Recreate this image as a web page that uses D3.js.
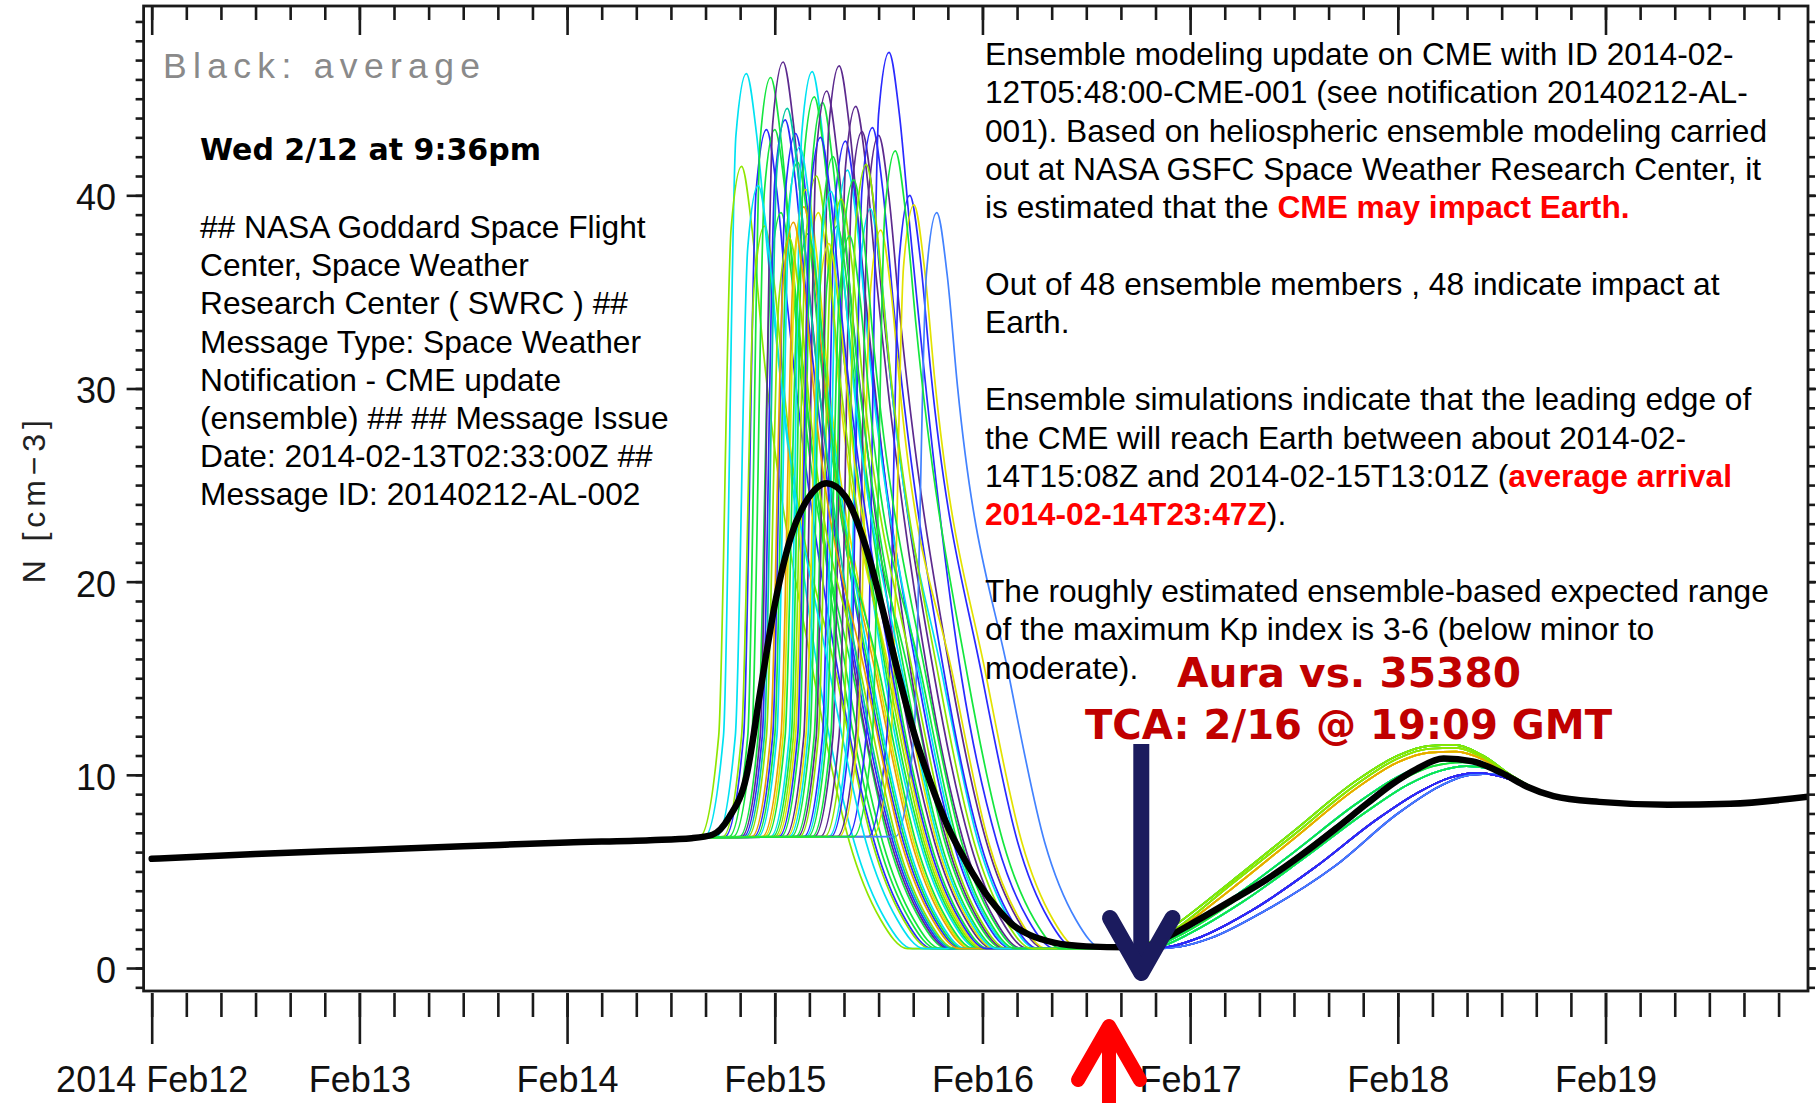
<!DOCTYPE html>
<html><head><meta charset="utf-8">
<script src="https://cdn.jsdelivr.net/npm/d3@7"></script>
<style>html,body{margin:0;padding:0;background:#fff;overflow:hidden}text{white-space:pre}</style>
</head><body><svg id="c" width="1816" height="1103"></svg>
<script>
// ---------------- data (days since 2014-02-12 00:00 UT, density cm^-3) ----------------
const dayLabels = ["2014 Feb12","Feb13","Feb14","Feb15","Feb16","Feb17","Feb18","Feb19"];
const yTickValues = [0,10,20,30,40];

const averageSeries = [[0,5.65],[0.5,5.9],[1.0,6.1],[1.5,6.3],[2.0,6.5],[2.4,6.62],[2.6,6.72],[2.7,6.9],[2.78,7.8],[2.865,10.0],[2.93,14.3],[3.0,18.8],[3.08,22.4],[3.16,24.3],[3.25,25.1],[3.34,24.4],[3.45,21.4],[3.53,18.1],[3.6,15.0],[3.675,12.0],[3.75,9.6],[3.83,7.4],[3.9,5.9],[4.0,4.1],[4.07,3.1],[4.15,2.2],[4.23,1.7],[4.35,1.3],[4.5,1.12],[4.7,1.07],[4.8,1.15],[4.89,1.6],[5.0,2.25],[5.2,3.5],[5.37,4.6],[5.53,5.8],[5.7,7.2],[5.85,8.5],[5.97,9.5],[6.09,10.3],[6.22,10.85],[6.36,10.7],[6.5,10.1],[6.62,9.4],[6.75,8.9],[6.97,8.6],[7.3,8.45],[7.6,8.5],[7.975,8.87]];

const sharedBaseline = [[0,5.65],[1,6.1],[2,6.5],[2.6,6.75]];

const bumpUp     = [[4.72,1.0],[4.8,1.3],[4.9,2.0],[5.2,4.5],[5.5,7.1],[5.8,9.7],[6.0,11.0],[6.15,11.5],[6.27,11.55],[6.41,11.0],[6.55,9.95],[6.7,9.05]];
const bumpUp2    = [[4.73,1.0],[4.82,1.3],[4.92,1.95],[5.2,4.35],[5.5,6.9],[5.8,9.5],[6.0,10.85],[6.15,11.35],[6.28,11.4],[6.41,10.9],[6.55,9.9],[6.7,9.05]];
const bumpYellow = [[4.74,1.0],[4.82,1.25],[4.92,1.85],[5.2,4.1],[5.5,6.7],[5.8,9.3],[6.0,10.65],[6.15,11.15],[6.28,11.2],[6.41,10.8],[6.55,9.85],[6.7,9.05]];
const bumpMid    = [[4.76,1.0],[4.85,1.25],[4.95,1.8],[5.2,3.6],[5.5,6.0],[5.8,8.5],[6.0,9.9],[6.15,10.6],[6.3,10.8],[6.43,10.55],[6.56,9.75],[6.7,9.0]];
const bumpMid2   = [[4.77,1.0],[4.86,1.22],[4.97,1.8],[5.22,3.5],[5.52,5.85],[5.82,8.3],[6.02,9.75],[6.17,10.45],[6.31,10.65],[6.44,10.45],[6.56,9.75],[6.7,9.0]];
const bumpLow    = [[4.78,1.0],[4.88,1.2],[5.0,1.8],[5.25,3.4],[5.55,5.7],[5.85,8.1],[6.05,9.5],[6.2,10.2],[6.33,10.45],[6.45,10.3],[6.57,9.7],[6.7,9.0]];
const bumpBlue   = [[4.8,1.0],[4.92,1.15],[5.05,1.6],[5.3,3.0],[5.6,5.2],[5.9,7.7],[6.1,9.1],[6.25,9.85],[6.38,10.1],[6.5,9.9],[6.6,9.5],[6.72,8.95]];
const bumpBlue2  = [[4.82,1.0],[4.95,1.1],[5.1,1.55],[5.35,2.9],[5.7,5.3],[6.0,8.0],[6.2,9.4],[6.35,10.0],[6.47,10.05],[6.57,9.7],[6.72,8.95]];

const memberColorKeys = ["C","L","B","G","L","G","G","P","B","B","G","O","Y","C","G","Y","G","P","G","P","B","C","P","P","C","B","P","Y","B","B","Y","LB","C","L","C","G","L","Y","G","L","G","T","O","B","C","G","L","G"];
const memberBumpKeys  = ["mid","up","blue","up","up2","mid","low","blue","blue2","blue","up","yel","yel","mid","up2","yel","mid2","blue","low","blue","blue2","low","blue","blue2","mid","blue","blue","yel","blue2","blue","yel","blue2","low","up","mid","up","up2","yel","mid2","up","low","mid","yel","blue","low","mid","up2","low"];

const memberCME = [
[[2.663,6.8],[2.753,12],[2.813,43.1],[2.863,46.3],[2.913,43.1],[2.963,37.3],[3.213,15],[3.383,6.5],[3.533,2.5],[3.663,1]],
[[2.64,6.8],[2.73,12],[2.79,38.3],[2.84,41.5],[2.89,38.3],[2.94,32.5],[3.19,15],[3.36,6.5],[3.51,2.5],[3.64,1]],
[[2.76,6.8],[2.85,12],[2.91,40.2],[2.96,43.4],[3.01,40.2],[3.06,34.4],[3.31,15],[3.48,6.5],[3.63,2.5],[3.76,1]],
[[2.78,6.8],[2.87,12],[2.93,42.9],[2.98,46.1],[3.03,42.9],[3.08,37.1],[3.33,15],[3.5,6.5],[3.65,2.5],[3.78,1]],
[[2.75,6.8],[2.84,12],[2.9,35.2],[2.95,38.4],[3.0,35.2],[3.05,29.4],[3.3,15],[3.47,6.5],[3.62,2.5],[3.75,1]],
[[2.8,6.8],[2.89,12],[2.95,40.2],[3.0,43.4],[3.05,40.2],[3.1,34.4],[3.35,15],[3.52,6.5],[3.67,2.5],[3.8,1]],
[[2.83,6.8],[2.92,12],[2.98,35.9],[3.03,39.1],[3.08,35.9],[3.13,30.1],[3.38,15],[3.55,6.5],[3.7,2.5],[3.83,1]],
[[2.84,6.8],[2.93,12],[2.99,43.7],[3.04,46.9],[3.09,43.7],[3.14,37.9],[3.39,15],[3.56,6.5],[3.71,2.5],[3.84,1]],
[[2.85,6.8],[2.94,12],[3.0,40.7],[3.05,43.9],[3.1,40.7],[3.15,34.9],[3.4,15],[3.57,6.5],[3.72,2.5],[3.85,1]],
[[2.9,6.8],[2.99,12],[3.05,40],[3.1,43.2],[3.15,40],[3.2,34.2],[3.45,15],[3.62,6.5],[3.77,2.5],[3.9,1]],
[[2.91,6.8],[3.0,12],[3.06,38.5],[3.11,41.7],[3.16,38.5],[3.21,32.7],[3.46,15],[3.63,6.5],[3.78,2.5],[3.91,1]],
[[2.94,6.8],[3.03,12],[3.09,36.2],[3.14,39.4],[3.19,36.2],[3.24,30.4],[3.49,15],[3.66,6.5],[3.81,2.5],[3.94,1]],
[[2.95,6.8],[3.04,12],[3.1,37.1],[3.15,40.3],[3.2,37.1],[3.25,31.3],[3.5,15],[3.67,6.5],[3.82,2.5],[3.95,1]],
[[2.98,6.8],[3.07,12],[3.13,43.2],[3.18,46.4],[3.23,43.2],[3.28,37.4],[3.53,15],[3.7,6.5],[3.85,2.5],[3.98,1]],
[[2.99,6.8],[3.08,12],[3.14,41.9],[3.19,45.1],[3.24,41.9],[3.29,36.1],[3.54,15],[3.71,6.5],[3.86,2.5],[3.99,1]],
[[3.01,6.8],[3.1,12],[3.16,35.9],[3.21,39.1],[3.26,35.9],[3.31,30.1],[3.56,15],[3.73,6.5],[3.88,2.5],[4.01,1]],
[[3.03,6.8],[3.12,12],[3.18,41.6],[3.23,44.8],[3.28,41.6],[3.33,35.8],[3.58,15],[3.75,6.5],[3.9,2.5],[4.03,1]],
[[3.05,6.8],[3.14,12],[3.2,42.2],[3.25,45.4],[3.3,42.2],[3.35,36.4],[3.6,15],[3.77,6.5],[3.92,2.5],[4.05,1]],
[[3.1,6.8],[3.19,12],[3.25,35.2],[3.3,38.4],[3.35,35.2],[3.4,29.4],[3.65,15],[3.82,6.5],[3.97,2.5],[4.1,1]],
[[3.11,6.8],[3.2,12],[3.26,43.5],[3.31,46.7],[3.36,43.5],[3.41,37.7],[3.66,15],[3.83,6.5],[3.98,2.5],[4.11,1]],
[[3.14,6.8],[3.23,12],[3.29,39.6],[3.34,42.8],[3.39,39.6],[3.44,33.8],[3.69,15],[3.86,6.5],[4.01,2.5],[4.14,1]],
[[3.15,6.8],[3.24,12],[3.3,38.1],[3.35,41.3],[3.4,38.1],[3.45,32.3],[3.7,15],[3.87,6.5],[4.02,2.5],[4.15,1]],
[[3.19,6.8],[3.28,12],[3.34,41.4],[3.39,44.6],[3.44,41.4],[3.49,35.6],[3.74,15],[3.91,6.5],[4.06,2.5],[4.19,1]],
[[3.22,6.8],[3.31,12],[3.37,40.1],[3.42,43.3],[3.47,40.1],[3.52,34.3],[3.77,15],[3.94,6.5],[4.09,2.5],[4.22,1]],
[[3.26,6.8],[3.35,12],[3.41,36.1],[3.46,39.3],[3.51,36.1],[3.56,30.3],[3.81,15],[3.98,6.5],[4.13,2.5],[4.26,1]],
[[3.27,6.8],[3.36,12],[3.42,40.3],[3.47,43.5],[3.52,40.3],[3.57,34.5],[3.82,15],[3.99,6.5],[4.14,2.5],[4.27,1]],
[[3.3,6.8],[3.39,12],[3.45,39.9],[3.5,43.1],[3.55,39.9],[3.6,34.1],[3.85,15],[4.02,6.5],[4.17,2.5],[4.3,1]],
[[3.31,6.8],[3.4,12],[3.46,35],[3.51,38.2],[3.56,35],[3.61,29.2],[3.86,15],[4.03,6.5],[4.18,2.5],[4.31,1]],
[[3.35,6.8],[3.44,12],[3.5,44.2],[3.55,47.4],[3.6,44.2],[3.65,38.4],[3.9,15],[4.07,6.5],[4.22,2.5],[4.35,1]],
[[3.45,6.8],[3.54,12],[3.6,36.8],[3.65,40],[3.7,36.8],[3.75,31],[4.0,15],[4.17,6.5],[4.32,2.5],[4.45,1]],
[[3.47,6.8],[3.56,12],[3.62,36.3],[3.67,39.5],[3.72,36.3],[3.77,30.5],[4.02,15],[4.19,6.5],[4.34,2.5],[4.47,1]],
[[3.58,6.8],[3.67,12],[3.73,35.9],[3.78,39.1],[3.83,35.9],[3.88,30.1],[4.13,15],[4.3,6.5],[4.45,2.5],[4.58,1]],
[[2.72,6.8],[2.81,12],[2.87,37.3],[2.92,40.5],[2.97,37.3],[3.02,31.5],[3.27,15],[3.44,6.5],[3.59,2.5],[3.72,1]],
[[2.87,6.8],[2.96,12],[3.02,34.6],[3.07,37.8],[3.12,34.6],[3.17,28.8],[3.42,15],[3.59,6.5],[3.74,2.5],[3.87,1]],
[[2.92,6.8],[3.01,12],[3.07,39.3],[3.12,42.5],[3.17,39.3],[3.22,33.5],[3.47,15],[3.64,6.5],[3.79,2.5],[3.92,1]],
[[2.96,6.8],[3.05,12],[3.11,34.8],[3.16,38],[3.21,34.8],[3.26,29],[3.51,15],[3.68,6.5],[3.83,2.5],[3.96,1]],
[[3.0,6.8],[3.09,12],[3.15,37.8],[3.2,41],[3.25,37.8],[3.3,32],[3.55,15],[3.72,6.5],[3.87,2.5],[4.0,1]],
[[3.06,6.8],[3.15,12],[3.21,34.3],[3.26,37.5],[3.31,34.3],[3.36,28.5],[3.61,15],[3.78,6.5],[3.93,2.5],[4.06,1]],
[[3.08,6.8],[3.17,12],[3.23,38.8],[3.28,42],[3.33,38.8],[3.38,33],[3.63,15],[3.8,6.5],[3.95,2.5],[4.08,1]],
[[3.12,6.8],[3.21,12],[3.27,36.6],[3.32,39.8],[3.37,36.6],[3.42,30.8],[3.67,15],[3.84,6.5],[3.99,2.5],[4.12,1]],
[[3.18,6.8],[3.27,12],[3.33,37.6],[3.38,40.8],[3.43,37.6],[3.48,31.8],[3.73,15],[3.9,6.5],[4.05,2.5],[4.18,1]],
[[2.86,6.8],[2.95,12],[3.01,41.3],[3.06,44.5],[3.11,41.3],[3.16,35.5],[3.41,15],[3.58,6.5],[3.73,2.5],[3.86,1]],
[[2.89,6.8],[2.98,12],[3.04,35.4],[3.09,38.6],[3.14,35.4],[3.19,29.6],[3.44,15],[3.61,6.5],[3.76,2.5],[3.89,1]],
[[3.02,6.8],[3.11,12],[3.17,39.8],[3.22,43],[3.27,39.8],[3.32,34],[3.57,15],[3.74,6.5],[3.89,2.5],[4.02,1]],
[[3.07,6.8],[3.16,12],[3.22,37],[3.27,40.2],[3.32,37],[3.37,31.2],[3.62,15],[3.79,6.5],[3.94,2.5],[4.07,1]],
[[3.16,6.8],[3.25,12],[3.31,34.7],[3.36,37.9],[3.41,34.7],[3.46,28.9],[3.71,15],[3.88,6.5],[4.03,2.5],[4.16,1]],
[[3.24,6.8],[3.33,12],[3.39,38.4],[3.44,41.6],[3.49,38.4],[3.54,32.6],[3.79,15],[3.96,6.5],[4.11,2.5],[4.24,1]],
[[3.38,6.8],[3.47,12],[3.53,39.1],[3.58,42.3],[3.63,39.1],[3.68,33.3],[3.93,15],[4.1,6.5],[4.25,2.5],[4.38,1]]
];

const leftNoteLines = ["## NASA Goddard Space Flight","Center, Space Weather","Research Center ( SWRC ) ##","Message Type: Space Weather","Notification - CME update","(ensemble) ## ## Message Issue","Date: 2014-02-13T02:33:00Z ##","Message ID: 20140212-AL-002"];
const rightNoteLines = [
 [["Ensemble modeling update on CME with ID 2014-02-"]],
 [["12T05:48:00-CME-001 (see notification 20140212-AL-"]],
 [["001). Based on heliospheric ensemble modeling carried"]],
 [["out at NASA GSFC Space Weather Research Center, it"]],
 [["is estimated that the "],["CME may impact Earth.","red"]],
 [],
 [["Out of 48 ensemble members , 48 indicate impact at"]],
 [["Earth."]],
 [],
 [["Ensemble simulations indicate that the leading edge of"]],
 [["the CME will reach Earth between about 2014-02-"]],
 [["14T15:08Z and 2014-02-15T13:01Z ("],["average arrival","red"]],
 [["2014-02-14T23:47Z","red"],[")."]],
 [],
 [["The roughly estimated ensemble-based expected range"]],
 [["of the maximum Kp index is 3-6 (below minor to"]],
 [["moderate)."]]
];

// ---------------- drawing ----------------
const palette = {C:"#00e2f2",G:"#14e63e",L:"#8fe600",Y:"#e2e200",O:"#e9a200",B:"#2a2aff",LB:"#4282ff",P:"#5c2a8e",T:"#00c8a2"};
const bumps = {up:bumpUp, up2:bumpUp2, yel:bumpYellow, mid:bumpMid, mid2:bumpMid2, low:bumpLow, blue:bumpBlue, blue2:bumpBlue2};

const plot = {left:143.6, right:1808, top:6, bottom:991};
const t0 = Date.UTC(2014,1,12);
const toDate = d => new Date(t0 + d*864e5);
const x = d3.scaleUtc().domain([toDate(-0.039), toDate(7.975)]).range([plot.left, plot.right]);
const y = d3.scaleLinear().domain([-1.19, 49.8]).range([plot.bottom, plot.top]);

const svg = d3.select("#c");
svg.append("rect").attr("width",1816).attr("height",1103).attr("fill","#fff");
svg.append("defs").append("clipPath").attr("id","clip").append("rect")
  .attr("x",plot.left).attr("y",plot.top).attr("width",plot.right-plot.left).attr("height",plot.bottom-plot.top);

const line = d3.line().x(d=>x(toDate(d[0]))).y(d=>y(d[1])).curve(d3.curveMonotoneX);
const gl = svg.append("g").attr("clip-path","url(#clip)");
memberCME.forEach((pts,i)=>{
  gl.append("path").attr("d", line(sharedBaseline.concat(pts, bumps[memberBumpKeys[i]])))
    .attr("fill","none").attr("stroke",palette[memberColorKeys[i]]).attr("stroke-width",1.7)
    .attr("stroke-linejoin","round");
});
gl.append("path").attr("d", line(averageSeries)).attr("fill","none").attr("stroke","#000")
  .attr("stroke-width",6.5).attr("stroke-linejoin","round").attr("stroke-linecap","round");

// axes
const minorX = d3.utcHour.every(4).range(x.domain()[0], x.domain()[1]);
const majorX = dayLabels.map((_,i)=>toDate(i));
const minorY = d3.range(-1,50);
function styleAxis(g){ g.select(".domain").remove(); g.selectAll("line").attr("stroke","#1a1a1a").attr("stroke-width",2.6); }

svg.append("g").attr("transform",`translate(0,${plot.bottom+2})`)
  .call(d3.axisBottom(x).tickValues(minorX).tickSize(24).tickFormat("")).call(styleAxis);
const gb = svg.append("g").attr("transform",`translate(0,${plot.bottom+2})`)
  .call(d3.axisBottom(x).tickValues(majorX).tickSize(51).tickFormat((d,i)=>dayLabels[i])).call(styleAxis);
gb.selectAll("text").attr("y",99).attr("dy",0).attr("font-family","Liberation Sans, Arial, sans-serif")
  .attr("font-size",36).attr("fill","#111");

svg.append("g").attr("transform",`translate(0,${plot.top})`)
  .call(d3.axisTop(x).tickValues(minorX).tickSize(-14).tickFormat("")).call(styleAxis);
svg.append("g").attr("transform",`translate(0,${plot.top})`)
  .call(d3.axisTop(x).tickValues(majorX).tickSize(-29).tickFormat("")).call(styleAxis);

svg.append("g").attr("transform",`translate(${plot.left},0)`)
  .call(d3.axisLeft(y).tickValues(minorY).tickSize(8).tickFormat("")).call(styleAxis);
const gy = svg.append("g").attr("transform",`translate(${plot.left},0)`)
  .call(d3.axisLeft(y).tickValues(yTickValues).tickSize(17).tickPadding(10.6)).call(styleAxis);
gy.selectAll("text").attr("dy","0.4em").attr("font-family","Liberation Sans, Arial, sans-serif")
  .attr("font-size",36).attr("fill","#111");
svg.append("g").attr("transform",`translate(${plot.right},0)`)
  .call(d3.axisRight(y).tickValues(minorY).tickSize(7).tickFormat("")).call(styleAxis);
svg.append("g").attr("transform",`translate(${plot.right},0)`)
  .call(d3.axisRight(y).tickValues(yTickValues).tickSize(17).tickFormat("")).call(styleAxis);

svg.append("rect").attr("x",plot.left).attr("y",plot.top).attr("width",plot.right-plot.left)
  .attr("height",plot.bottom-plot.top).attr("fill","none").attr("stroke","#1a1a1a").attr("stroke-width",2.8);

// y label
svg.append("text").attr("transform","translate(45,501.7) rotate(-90)").attr("text-anchor","middle")
  .attr("font-family","Liberation Sans, Arial, sans-serif").attr("font-size",32).attr("fill","#222")
  .attr("textLength",163).attr("lengthAdjust","spacing").text("N [cm\u22123]");

// legend note
svg.append("text").attr("x",163).attr("y",78.2).attr("font-family","Liberation Sans, Arial, sans-serif")
  .attr("font-size",35.5).attr("fill","#8a8a8a").attr("textLength",317).attr("lengthAdjust","spacing")
  .text("Black: average");

// overlay annotations
const sans = "Liberation Sans, Arial, sans-serif";
svg.append("text").attr("x",200).attr("y",160.2).attr("font-family","DejaVu Sans, sans-serif")
  .attr("font-weight","bold").attr("font-size",29.5).attr("fill","#000")
  .attr("textLength",341).attr("lengthAdjust","spacingAndGlyphs").text("Wed 2/12 at 9:36pm");

const lt = svg.append("text").attr("font-family",sans).attr("font-size",31.7).attr("fill","#000");
leftNoteLines.forEach((s,i)=>lt.append("tspan").attr("x",200).attr("y",238+i*38.2).text(s));

const rt = svg.append("text").attr("font-family",sans).attr("font-size",31.7).attr("fill","#000");
rightNoteLines.forEach((segs,i)=>{
  segs.forEach((sg,j)=>{
    const ts = rt.append("tspan").text(sg[0]);
    if(j===0) ts.attr("x",985).attr("y",65+i*38.35);
    if(sg[1]==="red") ts.attr("fill","#ff0000").attr("font-weight","bold");
  });
});

svg.append("text").attr("x",1177).attr("y",686.6).attr("font-family","DejaVu Sans, sans-serif")
  .attr("font-weight","bold").attr("font-size",41).attr("fill","#c00000")
  .attr("textLength",344).attr("lengthAdjust","spacingAndGlyphs").text("Aura vs. 35380");
svg.append("text").attr("x",1085).attr("y",739.4).attr("font-family","DejaVu Sans, sans-serif")
  .attr("font-weight","bold").attr("font-size",41).attr("fill","#c00000")
  .attr("textLength",527).attr("lengthAdjust","spacingAndGlyphs").text("TCA: 2/16 @ 19:09 GMT");

// arrows
const navy = "#1b1b5e";
svg.append("line").attr("x1",1141.3).attr("x2",1141.3).attr("y1",744).attr("y2",966)
  .attr("stroke",navy).attr("stroke-width",16);
svg.append("polyline").attr("points","1110,918 1141.3,973 1172.5,918").attr("fill","none")
  .attr("stroke",navy).attr("stroke-width",16).attr("stroke-linecap","round").attr("stroke-linejoin","round");
svg.append("line").attr("x1",1109).attr("x2",1109).attr("y1",1032).attr("y2",1110)
  .attr("stroke","#ff0000").attr("stroke-width",14);
svg.append("polyline").attr("points","1078,1080 1109,1026 1140,1080").attr("fill","none")
  .attr("stroke","#ff0000").attr("stroke-width",14).attr("stroke-linecap","round").attr("stroke-linejoin","round");
</script></body></html>
